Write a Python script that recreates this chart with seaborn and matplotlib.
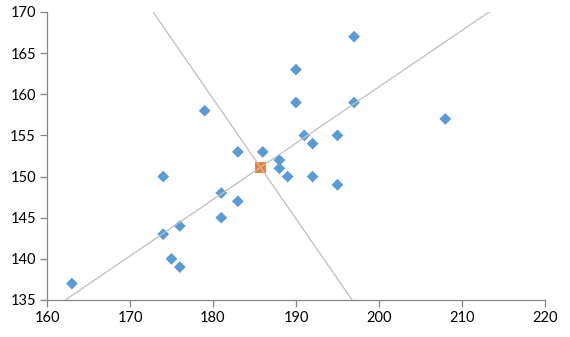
import numpy as np
import pandas as pd
import seaborn as sns
import matplotlib
matplotlib.use("Agg")
import matplotlib.pyplot as plt

x_vals = [163, 174, 174, 175, 176, 176, 179, 181, 181, 183, 183, 186, 188, 188,
          189, 190, 190, 191, 192, 192, 195, 195, 197, 197, 208]
y_vals = [137, 150, 143, 140, 144, 139, 158, 148, 145, 153, 147, 153, 152, 151,
          150, 163, 159, 155, 154, 150, 155, 149, 167, 159, 157]
x_ticks = [160, 170, 180, 190, 200, 210, 220]
y_ticks = [135, 140, 145, 150, 155, 160, 165, 170]

df = pd.DataFrame({"x": x_vals, "y": y_vals})

sns.set_theme(style="white")
plt.rcParams["font.family"] = ["Lato", "DejaVu Sans"]

fig = plt.figure(figsize=(5.7, 3.37), dpi=100)
ax = fig.add_axes([0.0825, 0.1098, 0.956 - 0.0825, 0.9644 - 0.1098])

sns.scatterplot(data=df, x="x", y="y", ax=ax, marker="D", s=36,
                color="#5B9BD5", edgecolor="none", zorder=3)

# centroid
mx, my = df["x"].mean(), df["y"].mean()
sns.scatterplot(x=[mx], y=[my], ax=ax, marker="s", s=60, color="#ED7D31",
                edgecolor="#ED7D31", zorder=4)

# principal axes
cov = np.cov(df["x"], df["y"])
w, v = np.linalg.eigh(cov)
t = np.linspace(-200, 200, 2)
for k in range(2):
    vx, vy = v[:, k]
    ax.plot(mx + t * vx, my + t * vy, color="#BFBFBF", lw=0.9, zorder=5)

ax.set_xlim(160, 220)
ax.set_ylim(135, 170)
ax.set_xticks(x_ticks)
ax.set_yticks(y_ticks)
ax.set_xlabel("")
ax.set_ylabel("")
for s in ["top", "right"]:
    ax.spines[s].set_visible(False)
for s in ["left", "bottom"]:
    ax.spines[s].set_color("#868686")
    ax.spines[s].set_linewidth(0.9)
ax.tick_params(axis="both", which="major", direction="out", length=5,
               width=0.9, color="#868686", labelsize=10.5, labelcolor="#000000",
               pad=3)
ax.tick_params(axis="both", left=True, bottom=True)

fig.savefig("out.png", dpi=100)
